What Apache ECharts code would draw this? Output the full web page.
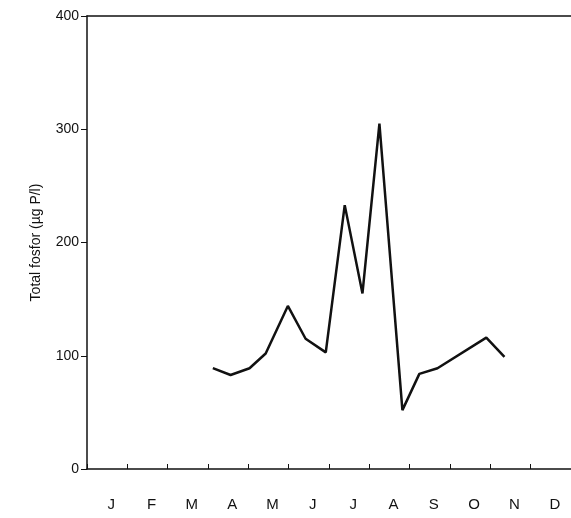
<!DOCTYPE html>
<html>
<head>
<meta charset="utf-8">
<script src="https://cdn.jsdelivr.net/npm/echarts@6/dist/echarts.min.js"></script>
<style>html,body{margin:0;padding:0;background:#fff}#chart{width:571px;height:518px}</style>
</head>
<body>
<div id="chart"></div>
<script>
// months as category labels, data x in months from Jan 1
var months = ['J', 'F', 'M', 'A', 'M', 'J', 'J', 'A', 'S', 'O', 'N', 'D'];
var monthPos = [3.12, 3.56, 4.03, 4.43, 4.98, 5.42, 5.92, 6.39, 6.83, 7.25, 7.82, 8.24, 8.69, 9.9, 10.35];
var fosfor = [89, 83, 89, 102, 144, 115, 103, 233, 155, 305, 52, 84, 89, 116, 99];
var yTicks = [0, 100, 200, 300, 400];

var chart = echarts.init(document.getElementById('chart'));
var lineData = monthPos.map(function (m, i) { return [m, fosfor[i]]; });
var option = {
    animation: false,
    grid: { left: 87, right: 0, top: 16, bottom: 49 },
    xAxis: [
        {
            type: 'value', min: 0, max: 12, interval: 1,
            axisLine: { lineStyle: { color: '#111', width: 1.5 } },
            axisTick: { inside: true, length: 5, lineStyle: { color: '#111' } },
            axisLabel: { show: false },
            splitLine: { show: false }
        },
        {
            type: 'category', data: months, position: 'bottom',
            axisLine: { show: false }, axisTick: { show: false },
            axisLabel: { margin: 28, color: '#111', fontSize: 15, fontFamily: 'Liberation Sans', padding: [0, 0, 0, 8] }
        },
        {
            type: 'value', min: 0, max: 12, position: 'top',
            axisLine: { lineStyle: { color: '#111', width: 1.5 } },
            axisTick: { show: false }, axisLabel: { show: false }, splitLine: { show: false }
        }
    ],
    yAxis: {
        type: 'value', min: yTicks[0], max: yTicks[yTicks.length - 1], interval: 100,
        name: 'Total fosfor (\u00b5g P/l)', nameLocation: 'middle', nameGap: 44,
        nameTextStyle: { color: '#111', fontSize: 14, fontFamily: 'Liberation Sans' },
        axisLine: { show: true, lineStyle: { color: '#111', width: 1.5 } },
        axisTick: { show: true, length: 6, lineStyle: { color: '#111' } },
        axisLabel: { color: '#111', fontSize: 14, fontFamily: 'Liberation Sans', margin: 8 },
        splitLine: { show: false }
    },
    series: [{
        type: 'line', xAxisIndex: 0, data: lineData, symbol: 'none',
        lineStyle: { color: '#111', width: 2.5 }
    }]
};
chart.setOption(option);
</script>
</body>
</html>
